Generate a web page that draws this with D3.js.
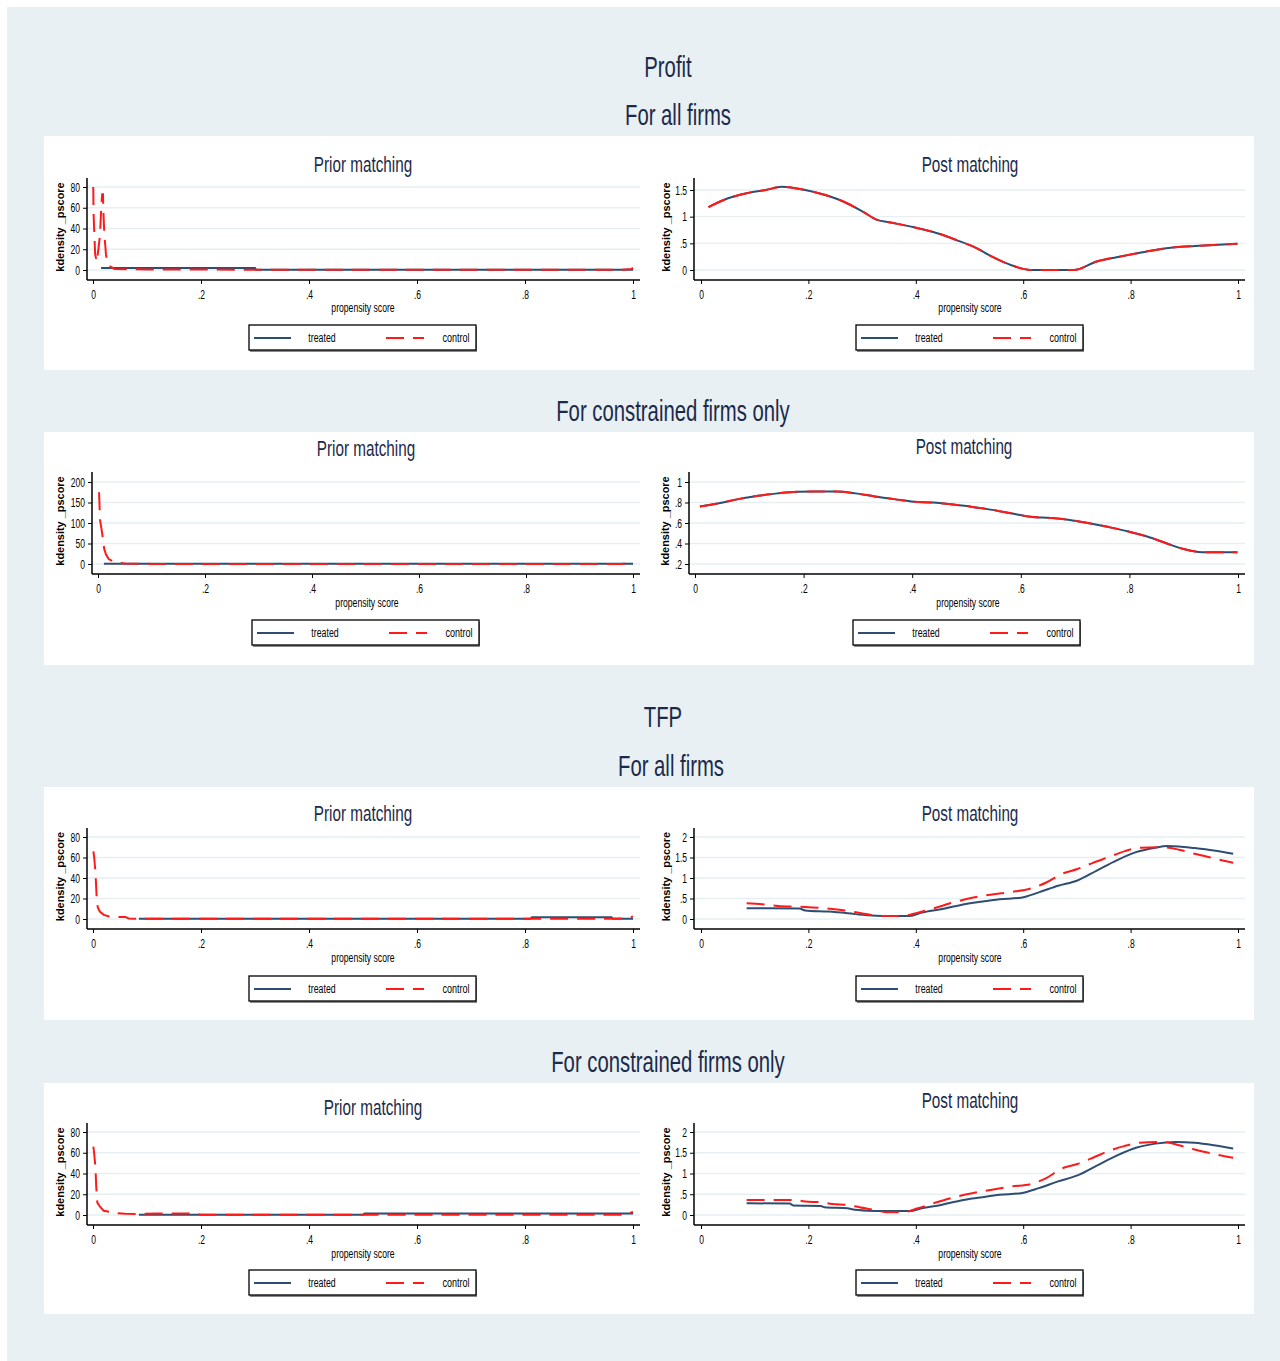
<!DOCTYPE html>
<html>
<head>
<meta charset="utf-8">
<script src="https://cdn.jsdelivr.net/npm/d3@7"></script>
<style>
  html, body { margin: 0; padding: 0; background: #ffffff; }
  svg { display: block; }
</style>
</head>
<body>
<svg id="fig" width="1280" height="1361"></svg>
<script>
// ---- shared axis values -------------------------------------------------
const xTicks = [0, 0.2, 0.4, 0.6, 0.8, 1];
const yTicksDens80 = [0, 20, 40, 60, 80];
const yTicksDens200 = [0, 50, 100, 150, 200];
const yTicksProfitPost = [0, 0.5, 1, 1.5];
const yTicksConsPost = [0.2, 0.4, 0.6, 0.8, 1];
const yTicksTfpPost = [0, 0.5, 1, 1.5, 2];

const seriesNames = ["treated", "control"];
const sectionTitles = ["Profit", "TFP"];
const groupTitles = ["For all firms", "For constrained firms only", "For all firms", "For constrained firms only"];
const axisTitleX = "propensity score";
const axisTitleY = "kdensity _pscore";

// ---- Profit, all firms --------------------------------------------------
const profitAllPriorTreated = [[0.015, 2], [0.30, 2], [0.302, 0.3], [1.0, 0.3]];
const profitAllPriorControl = [
  [0.0005, 80], [0.001, 55], [0.002, 41], [0.004, 15], [0.007, 8], [0.010, 20], [0.013, 34],
  [0.014, 46], [0.016, 66], [0.017, 73], [0.0185, 73], [0.019, 60], [0.020, 47], [0.021, 34],
  [0.023, 22], [0.024, 15], [0.026, 9], [0.030, 4], [0.04, 1], [0.1, 0.4], [0.5, 0.3],
  [0.98, 0.3], [0.997, 1], [1.0, 2]
];
const profitAllPostTreated = [
  [0.014, 1.18], [0.049, 1.34], [0.085, 1.44], [0.121, 1.50], [0.15, 1.56], [0.194, 1.50],
  [0.23, 1.41], [0.266, 1.28], [0.302, 1.09], [0.328, 0.94], [0.353, 0.89], [0.397, 0.80],
  [0.44, 0.69], [0.476, 0.56], [0.513, 0.41], [0.542, 0.25], [0.578, 0.09], [0.614, 0.0],
  [0.694, 0.0], [0.737, 0.16], [0.774, 0.24], [0.81, 0.31], [0.846, 0.375], [0.883, 0.425],
  [0.92, 0.45], [0.955, 0.47], [0.999, 0.49]
];
const profitAllPostControl = [
  [0.014, 1.18], [0.049, 1.34], [0.085, 1.44], [0.121, 1.50], [0.15, 1.56], [0.194, 1.50],
  [0.23, 1.41], [0.266, 1.28], [0.302, 1.09], [0.328, 0.94], [0.353, 0.89], [0.397, 0.80],
  [0.44, 0.69], [0.476, 0.56], [0.513, 0.41], [0.542, 0.25], [0.578, 0.09], [0.614, 0.0],
  [0.694, 0.0], [0.737, 0.16], [0.774, 0.24], [0.81, 0.31], [0.846, 0.375], [0.883, 0.425],
  [0.92, 0.45], [0.955, 0.47], [0.999, 0.49]
];

// ---- Profit, constrained firms -----------------------------------------
const profitConsPriorTreated = [[0.011, 0.5], [1.0, 0.5]];
const profitConsPriorControl = [
  [0.002, 175], [0.003, 137], [0.004, 106], [0.006, 90], [0.008, 73], [0.010, 50],
  [0.012, 35], [0.015, 23], [0.02, 12], [0.03, 5], [0.05, 1], [0.1, 0.3], [0.98, 0.3], [1.0, 4]
];
const profitConsPostTreated = [
  [0.009, 0.76], [0.044, 0.793], [0.08, 0.833], [0.116, 0.866], [0.152, 0.889], [0.188, 0.905],
  [0.224, 0.908], [0.26, 0.908], [0.296, 0.889], [0.331, 0.859], [0.367, 0.833], [0.403, 0.807],
  [0.439, 0.80], [0.475, 0.78], [0.511, 0.757], [0.547, 0.728], [0.582, 0.695], [0.618, 0.662],
  [0.654, 0.649], [0.69, 0.63], [0.726, 0.597], [0.762, 0.56], [0.798, 0.518], [0.834, 0.466],
  [0.869, 0.40], [0.898, 0.348], [0.934, 0.315], [0.97, 0.315], [0.999, 0.315]
];
const profitConsPostControl = [
  [0.009, 0.76], [0.044, 0.793], [0.08, 0.833], [0.116, 0.866], [0.152, 0.889], [0.188, 0.905],
  [0.224, 0.908], [0.26, 0.908], [0.296, 0.889], [0.331, 0.859], [0.367, 0.833], [0.403, 0.807],
  [0.439, 0.80], [0.475, 0.78], [0.511, 0.757], [0.547, 0.728], [0.582, 0.695], [0.618, 0.662],
  [0.654, 0.649], [0.69, 0.63], [0.726, 0.597], [0.762, 0.56], [0.798, 0.518], [0.834, 0.466],
  [0.869, 0.40], [0.898, 0.348], [0.934, 0.315], [0.97, 0.315], [0.999, 0.315]
];

// ---- TFP, all firms -----------------------------------------------------
const tfpAllPriorTreated = [[0.085, 0.2], [0.81, 0.3], [0.813, 1.8], [0.96, 1.8], [0.963, 0.2], [1.0, 0.2]];
const tfpAllPriorControl = [
  [0.0007, 66], [0.002, 61], [0.004, 49], [0.005, 41], [0.006, 30], [0.007, 18], [0.009, 11],
  [0.013, 7], [0.02, 4], [0.03, 2.5], [0.04, 2], [0.06, 2], [0.066, 0.5], [0.08, 0.3],
  [0.2, 0.2], [0.81, 0.3], [0.96, 0.3], [0.99, 0.5], [1.0, 2.5]
];
const tfpAllPostTreated = [
  [0.085, 0.26], [0.121, 0.26], [0.183, 0.255], [0.194, 0.21], [0.237, 0.18], [0.273, 0.14],
  [0.31, 0.09], [0.339, 0.074], [0.389, 0.074], [0.411, 0.156], [0.447, 0.24], [0.484, 0.344],
  [0.52, 0.418], [0.556, 0.48], [0.596, 0.52], [0.629, 0.65], [0.665, 0.81], [0.701, 0.94],
  [0.737, 1.18], [0.774, 1.43], [0.81, 1.63], [0.846, 1.74], [0.868, 1.78], [0.89, 1.77],
  [0.919, 1.73], [0.955, 1.67], [0.991, 1.59]
];
const tfpAllPostControl = [
  [0.085, 0.385], [0.114, 0.36], [0.143, 0.32], [0.194, 0.295], [0.23, 0.26], [0.273, 0.197],
  [0.31, 0.115], [0.331, 0.074], [0.375, 0.074], [0.404, 0.156], [0.433, 0.26], [0.469, 0.40],
  [0.505, 0.52], [0.542, 0.60], [0.578, 0.66], [0.614, 0.745], [0.643, 0.89], [0.672, 1.10],
  [0.701, 1.22], [0.73, 1.37], [0.759, 1.51], [0.788, 1.65], [0.817, 1.74], [0.861, 1.75],
  [0.89, 1.69], [0.919, 1.59], [0.955, 1.48], [0.991, 1.37]
];

// ---- TFP, constrained firms ---------------------------------------------
const tfpConsPriorTreated = [[0.085, 0.3], [0.5, 0.3], [0.503, 1.5], [1.0, 1.5]];
const tfpConsPriorControl = [
  [0.0007, 66], [0.002, 60], [0.004, 49], [0.005, 40], [0.006, 27], [0.008, 12], [0.013, 8],
  [0.02, 4], [0.03, 3], [0.035, 3.2], [0.04, 2], [0.06, 1.2], [0.08, 1], [0.12, 1.5],
  [0.19, 1.5], [0.2, 0.3], [0.5, 0.3], [0.98, 0.3], [1.0, 3]
];
const tfpConsPostTreated = [
  [0.085, 0.283], [0.165, 0.275], [0.172, 0.227], [0.223, 0.219], [0.23, 0.186], [0.273, 0.162],
  [0.281, 0.138], [0.31, 0.105], [0.339, 0.097], [0.389, 0.097], [0.411, 0.162], [0.447, 0.243],
  [0.484, 0.35], [0.52, 0.42], [0.556, 0.486], [0.596, 0.526], [0.629, 0.648], [0.665, 0.81],
  [0.701, 0.955], [0.737, 1.19], [0.774, 1.43], [0.81, 1.62], [0.846, 1.72], [0.883, 1.76],
  [0.919, 1.74], [0.955, 1.68], [0.991, 1.60]
];
const tfpConsPostControl = [
  [0.085, 0.364], [0.172, 0.364], [0.194, 0.324], [0.223, 0.308], [0.244, 0.267], [0.273, 0.243],
  [0.295, 0.186], [0.324, 0.12], [0.346, 0.065], [0.375, 0.065], [0.404, 0.162], [0.433, 0.283],
  [0.469, 0.42], [0.505, 0.526], [0.542, 0.607], [0.578, 0.688], [0.614, 0.745], [0.643, 0.89],
  [0.672, 1.12], [0.701, 1.23], [0.73, 1.38], [0.759, 1.54], [0.788, 1.66], [0.817, 1.74],
  [0.861, 1.76], [0.89, 1.68], [0.919, 1.58], [0.955, 1.47], [0.991, 1.38]
];

// ---- styling ------------------------------------------------------------
const FONT = "'Liberation Sans', Arial, sans-serif";
const COL_TREATED = "#2e4d73";
const COL_CONTROL = "#ff1a1a";
const COL_TITLE = "#1c2a4a";
const COL_GRID = "#e6eff2";
const DASH = "18,9";

const svg = d3.select("#fig");

// squeeze glyphs horizontally, like the narrow graph font
function squeeze(sel, f) {
  sel.each(function () {
    const w = this.getComputedTextLength();
    this.setAttribute("textLength", (w * f).toFixed(2));
    this.setAttribute("lengthAdjust", "spacingAndGlyphs");
  });
}

// background and white bands
svg.append("rect").attr("x", 7).attr("y", 7).attr("width", 1273).attr("height", 1354).attr("fill", "#e8f0f3");
const bands = [[136, 370], [432, 665], [787, 1020], [1083, 1314]];
bands.forEach(([t, b]) => {
  svg.append("rect").attr("x", 44).attr("y", t).attr("width", 1210).attr("height", b - t).attr("fill", "#ffffff");
});

// figure headings
const headings = [
  { text: sectionTitles[0], x: 668, y: 67 },
  { text: groupTitles[0], x: 678, y: 115 },
  { text: groupTitles[1], x: 673, y: 411 },
  { text: sectionTitles[1], x: 663, y: 717 },
  { text: groupTitles[2], x: 671, y: 766 },
  { text: groupTitles[3], x: 668, y: 1062 }
];
headings.forEach(h => {
  svg.append("text").attr("x", h.x).attr("y", h.y).attr("dy", "0.36em")
    .attr("text-anchor", "middle").attr("font-family", FONT).attr("font-size", 29)
    .attr("fill", COL_TITLE).text(h.text)
    .call(squeeze, 0.7);
});

// subplot frames
const leftFrame = { axisX: 87, x0: 93, x1: 633, right: 640, titleX: 60 };
const rightFrame = { axisX: 694, x0: 701, x1: 1238, right: 1245, titleX: 666 };

const subplots = [
  { f: leftFrame, top: 178, bot: 280, tTop: 187, tBot: 270, ticks: yTicksDens80, title: "Prior matching", tx: 363, ty: 164, ps: [363, 308], leg: [249, 325], tr: profitAllPriorTreated, ct: profitAllPriorControl, smooth: false },
  { f: rightFrame, top: 178, bot: 280, tTop: 190, tBot: 270, ticks: yTicksProfitPost, title: "Post matching", tx: 970, ty: 164, ps: [970, 308], leg: [856, 325], tr: profitAllPostTreated, ct: profitAllPostControl, smooth: true },
  { f: { axisX: 92, x0: 98, x1: 633, right: 640, titleX: 60 }, top: 472, bot: 574, tTop: 482, tBot: 564, ticks: yTicksDens200, title: "Prior matching", tx: 366, ty: 448, ps: [367, 603], leg: [252, 620], tr: profitConsPriorTreated, ct: profitConsPriorControl, smooth: false },
  { f: { axisX: 689, x0: 695, x1: 1238, right: 1245, titleX: 665 }, top: 472, bot: 574, tTop: 482, tBot: 564, ticks: yTicksConsPost, title: "Post matching", tx: 964, ty: 446, ps: [968, 603], leg: [853, 620], tr: profitConsPostTreated, ct: profitConsPostControl, smooth: true },
  { f: leftFrame, top: 828, bot: 929, tTop: 837, tBot: 919, ticks: yTicksDens80, title: "Prior matching", tx: 363, ty: 813, ps: [363, 958], leg: [249, 976], tr: tfpAllPriorTreated, ct: tfpAllPriorControl, smooth: false },
  { f: rightFrame, top: 828, bot: 929, tTop: 837, tBot: 919, ticks: yTicksTfpPost, title: "Post matching", tx: 970, ty: 813, ps: [970, 958], leg: [856, 976], tr: tfpAllPostTreated, ct: tfpAllPostControl, smooth: true },
  { f: leftFrame, top: 1123, bot: 1225, tTop: 1132, tBot: 1215, ticks: yTicksDens80, title: "Prior matching", tx: 373, ty: 1107, ps: [363, 1254], leg: [249, 1270], tr: tfpConsPriorTreated, ct: tfpConsPriorControl, smooth: false },
  { f: rightFrame, top: 1123, bot: 1225, tTop: 1132, tBot: 1215, ticks: yTicksTfpPost, title: "Post matching", tx: 970, ty: 1100, ps: [970, 1254], leg: [856, 1270], tr: tfpConsPostTreated, ct: tfpConsPostControl, smooth: true }
];

const fmt = d => String(d).replace(/^0\./, ".");

subplots.forEach(sp => {
  const g = svg.append("g");
  const f = sp.f;
  const x = d3.scaleLinear().domain([0, 1]).range([f.x0, f.x1]);
  const yMin = sp.ticks[0], yMax = sp.ticks[sp.ticks.length - 1];
  const y = d3.scaleLinear().domain([yMin, yMax]).range([sp.tBot, sp.tTop]);

  // gridlines
  g.selectAll("line.grid").data(sp.ticks).join("line")
    .attr("x1", f.axisX).attr("x2", f.right)
    .attr("y1", d => y(d)).attr("y2", d => y(d))
    .attr("stroke", COL_GRID).attr("stroke-width", 1.3);

  // y axis
  const yAxis = g.append("g").attr("transform", `translate(${f.axisX},0)`)
    .call(d3.axisLeft(y).tickValues(sp.ticks).tickFormat(fmt).tickSize(4).tickPadding(3));
  yAxis.select(".domain").remove();
  yAxis.selectAll(".tick line").attr("stroke", "#000").attr("stroke-width", 1);
  yAxis.selectAll(".tick text").attr("font-family", FONT).attr("font-size", 12.5).attr("fill", "#000")
    .call(squeeze, 0.68);
  g.append("line").attr("x1", f.axisX).attr("x2", f.axisX).attr("y1", sp.top).attr("y2", sp.bot)
    .attr("stroke", "#000").attr("stroke-width", 1.5);

  // x axis
  const xAxis = g.append("g").attr("transform", `translate(0,${sp.bot})`)
    .call(d3.axisBottom(x).tickValues(xTicks).tickFormat(fmt).tickSize(4).tickPadding(6));
  xAxis.select(".domain").remove();
  xAxis.selectAll(".tick line").attr("stroke", "#000").attr("stroke-width", 1);
  xAxis.selectAll(".tick text").attr("font-family", FONT).attr("font-size", 12.5).attr("fill", "#000")
    .call(squeeze, 0.68);
  g.append("line").attr("x1", f.axisX).attr("x2", f.right).attr("y1", sp.bot).attr("y2", sp.bot)
    .attr("stroke", "#000").attr("stroke-width", 1.5);

  // axis titles
  g.append("text").attr("x", sp.ps[0]).attr("y", sp.ps[1]).attr("dy", "0.3em")
    .attr("text-anchor", "middle").attr("font-family", FONT).attr("font-size", 12.5)
    .attr("fill", "#000").text(axisTitleX).call(squeeze, 0.69);
  const yMid = (sp.top + sp.bot) / 2 - 2;
  g.append("text").attr("transform", `translate(${f.titleX},${yMid}) rotate(-90)`)
    .attr("dy", "0.35em").attr("text-anchor", "middle").attr("font-family", FONT)
    .attr("font-size", 11.5).attr("font-weight", "bold").attr("fill", "#000")
    .text(axisTitleY).call(squeeze, 0.95);

  // subplot title
  g.append("text").attr("x", sp.tx).attr("y", sp.ty).attr("dy", "0.36em")
    .attr("text-anchor", "middle").attr("font-family", FONT).attr("font-size", 21.5)
    .attr("fill", COL_TITLE).text(sp.title).call(squeeze, 0.71);

  // density curves
  const line = d3.line().x(d => x(d[0])).y(d => y(d[1]))
    .curve(sp.smooth ? d3.curveMonotoneX : d3.curveLinear);
  g.append("path").datum(sp.tr).attr("d", line).attr("fill", "none")
    .attr("stroke", COL_TREATED).attr("stroke-width", 2);
  g.append("path").datum(sp.ct).attr("d", line).attr("fill", "none")
    .attr("stroke", COL_CONTROL).attr("stroke-width", 2).attr("stroke-dasharray", DASH);

  // legend
  const [lx, ly] = sp.leg;
  const lg = g.append("g").attr("transform", `translate(${lx},${ly})`);
  lg.append("rect").attr("x", 1).attr("y", 2).attr("width", 227).attr("height", 25).attr("fill", "#8a8a8a");
  lg.append("rect").attr("x", 0).attr("y", 0).attr("width", 227).attr("height", 25)
    .attr("fill", "#fff").attr("stroke", "#000").attr("stroke-width", 1.3);
  const cy = 13;
  lg.append("line").attr("x1", 5).attr("x2", 42).attr("y1", cy).attr("y2", cy)
    .attr("stroke", COL_TREATED).attr("stroke-width", 2);
  lg.append("text").attr("x", 73).attr("y", cy).attr("dy", "0.35em").attr("text-anchor", "middle")
    .attr("font-family", FONT).attr("font-size", 12).attr("fill", "#000").text(seriesNames[0])
    .call(squeeze, 0.73);
  lg.append("line").attr("x1", 137).attr("x2", 175).attr("y1", cy).attr("y2", cy)
    .attr("stroke", COL_CONTROL).attr("stroke-width", 2).attr("stroke-dasharray", DASH);
  lg.append("text").attr("x", 207).attr("y", cy).attr("dy", "0.35em").attr("text-anchor", "middle")
    .attr("font-family", FONT).attr("font-size", 12).attr("fill", "#000").text(seriesNames[1])
    .call(squeeze, 0.75);
});
</script>
</body>
</html>
